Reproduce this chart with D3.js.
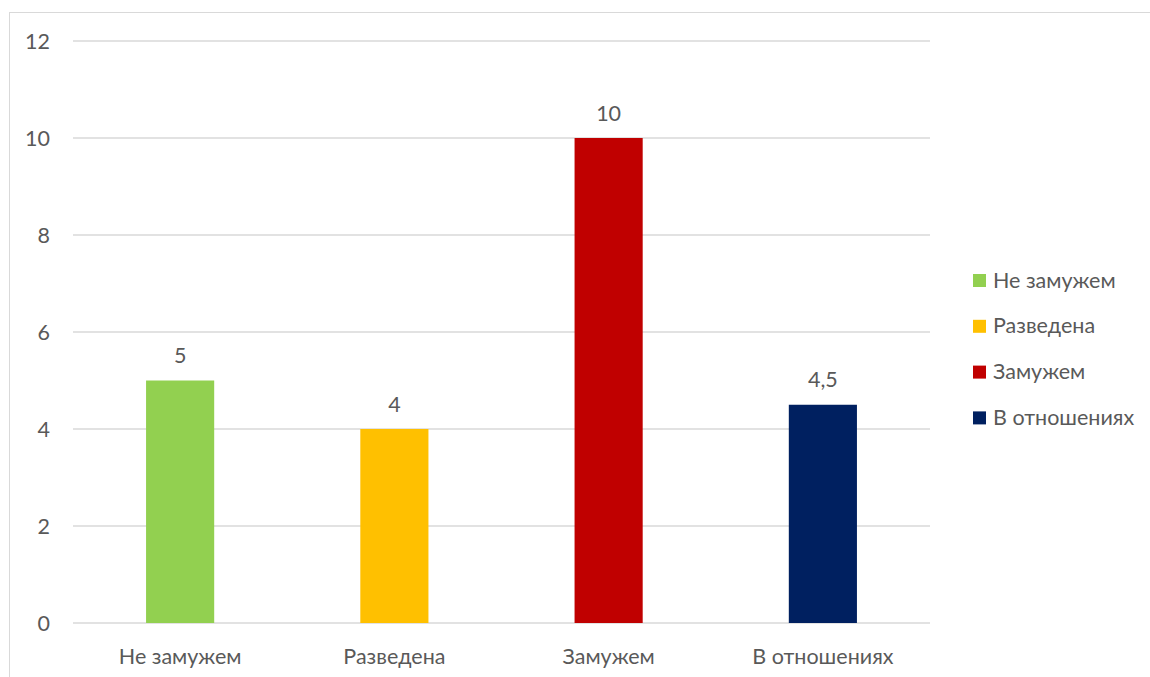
<!DOCTYPE html>
<html><head><meta charset="utf-8">
<script src="https://cdnjs.cloudflare.com/ajax/libs/d3/7.8.5/d3.min.js"></script>
<style>
html,body{margin:0;padding:0;background:#fff;}
svg{display:block;font-family:Lato,"Open Sans",sans-serif;}
</style></head><body>
<svg id="c" width="1150" height="677"></svg>
<script>
const categories = ["Не замужем","Разведена","Замужем","В отношениях"];
const values = [5,4,10,4.5];
const labels = ["5","4","10","4,5"];
const colors = ["#92D050","#FFC000","#C00000","#002060"];
const yTicks = [0,2,4,6,8,10,12];

const svg = d3.select("#c");
const textColor = "#595959";
const fs = 21.5;
// outer frame
svg.append("rect").attr("x",9.5).attr("y",12.5).attr("width",1200).attr("height",700)
  .attr("fill","none").attr("stroke","#d9d9d9").attr("stroke-width",1);

const x = d3.scaleBand().domain(categories).range([73,930]).paddingInner(0.682).paddingOuter(0.341);
const y = d3.scaleLinear().domain([0,12]).range([623,41]);

svg.append("g").selectAll("line").data(yTicks).join("line")
  .attr("x1",73).attr("x2",930).attr("y1",d=>y(d)).attr("y2",d=>y(d))
  .attr("stroke","#d9d9d9").attr("stroke-width",1.5);

svg.append("g").selectAll("text").data(yTicks).join("text")
  .attr("x",50).attr("y",d=>y(d)).attr("dy","0.35em").attr("text-anchor","end")
  .attr("fill",textColor).attr("font-size",fs).text(d=>d);

svg.append("g").selectAll("rect").data(values).join("rect")
  .attr("x",(d,i)=>x(categories[i])).attr("width",x.bandwidth())
  .attr("y",d=>y(d)).attr("height",d=>y(0)-y(d)).attr("fill",(d,i)=>colors[i]);

svg.append("g").selectAll("text").data(values).join("text")
  .attr("x",(d,i)=>x(categories[i])+x.bandwidth()/2).attr("y",d=>y(d)-25).attr("dy","0.35em")
  .attr("text-anchor","middle").attr("fill",textColor).attr("font-size",fs).text((d,i)=>labels[i]);

svg.append("g").selectAll("text").data(categories).join("text")
  .attr("x",d=>x(d)+x.bandwidth()/2).attr("y",656).attr("dy","0.35em")
  .attr("text-anchor","middle").attr("fill",textColor).attr("font-size",fs).text(d=>d);

const lg = svg.append("g").selectAll("g").data(categories).join("g")
  .attr("transform",(d,i)=>`translate(973,${280+i*45.8})`);
lg.append("rect").attr("x",0).attr("y",-6).attr("width",13).attr("height",13).attr("fill",(d,i)=>colors[i]);
lg.append("text").attr("x",20).attr("y",0).attr("dy","0.35em").attr("fill",textColor).attr("font-size",fs).text(d=>d);
</script>
</body></html>
